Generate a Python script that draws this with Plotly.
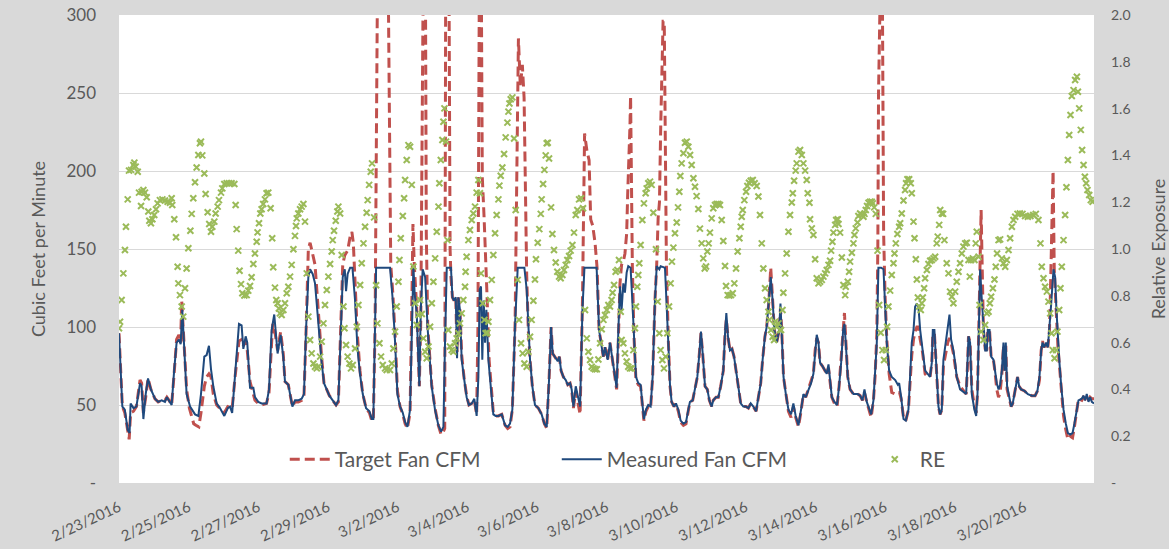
import pandas as pd
import plotly.graph_objects as go

# ---- data: (hours since 2/23/2016 00:00, value) ----
measured_cfm = [
(0,96),(2.3,49),(4,47),(6,34),(7.3,32),(8,51),(10,48),(12,49),(14.5,64),(15.6,62),(16.8,41),(18.4,57),(20,67),(22,60),(24.8,54),(27,52),(29.4,53),(31.7,52),(33,55),(34.5,53),(36.3,50),(38,72),(39.7,90),(41.3,92),(42.5,89),(43.6,111),(44.8,90),(46.6,57),(49,49),(52.4,44),(54.7,43),(56.5,57),(58.8,81),(60.4,82),(62,88),(63.4,73),(65,62),(67.3,51),(69.6,48),(72.6,43),(75,48),(76.5,49),(78,45),(80,72),(82.7,102),(84.5,101),(85.7,86),(87.3,94),(88.4,90),(90.3,61),(92.6,61),(93.7,55),(96,52),(98.3,51),(101.7,51),(103.4,60),(105.2,98),(107,108),(109.3,83),(111.4,95),(113.2,81),
(114.4,65),(116.7,63),(117.9,57),(119.5,49),(121.3,53),(123.6,53),(125.9,54),(127.5,57),(128.9,98),(130.5,132),(131.7,137),(133.5,134),(135.1,128),(136.7,111),(138.1,92),(139.7,77),(141.3,64),(143.2,60),(145,56),(147.3,53),(149.6,50),(151.2,53),(152.8,90),(154.2,132),(155.6,137),(156.5,123),(157.6,134),(159.3,138),(160.9,138),(162.7,117),(164.3,87),(166.1,70),(168,57),(170.3,48),(172.6,46),(174.2,41),(175.3,41),(176.5,90),(177.2,138),(186.8,138),(188.7,117),(190.3,90),(191.9,57),(193.7,49),(195.6,45),(197.2,39),(198.8,36),(200.6,47),(202,117),(202.9,139),(203.8,121),(205.2,109),(207,62),(208,111),(209.3,137),(211,132),(212.8,98),(215.5,62),(217.8,47),(220.1,37),(222,33),(223.6,36),(224.7,90),(225.9,138),
(228.8,138),(229.8,119),(230.9,117),(232.1,119),(233,80),(233.9,119),(235,111),(236.2,79),(238,66),(239.6,55),(241.2,50),(243.1,51),(244.9,54),(246.5,43),(247.7,68),(248.6,124),(249.5,126),(250.4,79),(251.4,117),(252.3,90),(253.2,111),(254.6,79),(256.4,60),(258,44),(259.6,43),(261.5,43),(263.8,44),(264.9,41),(266.1,37),(267.9,36),(269.5,38),(271.1,47),(273,102),(274.8,138),(279.4,138),(281,124),(282.1,100),(283.3,79),(284.9,62),(286.7,50),(289,48),(291.3,44),(293.2,38),(294.8,36),(296.4,66),(297.8,100),(298.9,83),(300.5,81),(302.4,78),(303.5,81),(304.7,72),(306.3,68),(307.9,66),(309.3,63),(310.9,64),(312,60),(313.2,49),(314.8,62),(316.2,55),(317.8,49),(319.4,111),(320.8,138),(329.2,138),(330.9,98),(332.2,90),(333.8,81),(335,87),(336.8,79),(338.4,90),
(340.2,79),(341.8,68),(343,61),(344.1,96),(345.3,126),(346.4,111),(347.6,128),(348.7,122),(349.9,135),(351,139),(352.6,138),(353.8,117),(354.9,92),(356.3,68),(357.9,64),(359.5,63),(360.7,51),(361.8,41),(363.2,47),(364.8,50),(366.4,49),(367.8,68),(369.4,117),(370.6,139),(372.4,137),(373.3,139),(376.3,138),(377.5,117),(378.6,90),(379.8,62),(380.9,52),(382.5,49),(383.9,51),(385.5,47),(387.1,40),(389,38),(390.8,39),(392.4,47),(393.5,52),(395.4,53),(397,60),(398.6,68),(400,83),(401.1,97),(402.3,83),(403.9,62),(405.5,60),(406.9,53),(408.5,49),(409.6,53),(411.5,55),(413.1,55),(414.7,62),(416.5,72),(417.7,96),(418.6,109),(419.7,94),(421.1,85),(422.5,86),(423.9,81),(425.3,72),(426.9,62),(428.5,51),(430.3,49),(432.1,49),(433.8,48),(435.4,51),(437.2,49),(439.1,46),(440.7,55),(442.3,64),(443.6,79),(445.2,94),(446.4,100),(447.8,115),(449.2,132),(450.5,117),(451.7,98),(453.3,90),
(455,98),(455.9,115),(456.8,98),(458,68),(459.6,57),(461.4,47),(463.2,44),(464.8,51),(466.4,43),(468.3,37),(470.1,47),(471.7,57),(473.3,55),(475.2,60),(477,64),(478.6,70),(479.8,85),(480.9,95),(482.1,90),(483.2,77),(484.8,75),(486.7,72),(487.8,70),(489,76),(489.7,68),(491.3,55),(493.1,52),(494.9,50),(496.3,62),(497.7,77),(499.1,98),(500,102),(500.9,90),(502.3,68),(503.9,60),(506.2,57),(509.2,57),(510.8,56),(512.4,53),(513.8,60),(515.4,52),(517,47),(518.4,44),(520,53),(521.1,68),(522.3,90),(523.4,138),(525.3,138),(526.9,137),(528,117),(529.2,90),(530.8,72),(532.6,68),(535,66),(536.8,63),(537.7,64),(539.1,55),(540.7,41),(542.3,40),(544.1,47),(545.3,68),(546.4,90),(547.6,98),(548.7,113),(549.9,115),(551,113),(552.2,98),(553.8,87),(555.6,72),(557.4,70),(559,68),(560.2,77),(560.9,98),(562,98),(563,81),(564.1,57),
(564.8,49),(565.9,44),(567.1,47),(568.2,79),(569.9,90),(571.2,98),(572.4,108),(573.5,92),(575.1,85),(576.3,77),(577.4,68),(579.7,60),(582.7,58),(583.9,57),(584.8,77),(585.5,94),(586.6,90),(587.8,57),(589.6,47),(590.8,43),(591.7,57),(592.6,96),(593.5,137),(594.7,117),(595.8,98),(597,85),(598.1,85),(598.8,98),(600,98),(601.1,81),(602.7,79),(603.9,70),(605,64),(606.2,60),(607.3,63),(608.5,72),(609.6,90),(610.3,72),(611.2,90),(612.1,62),(613.5,55),(614.9,49),(616,51),(617.2,57),(618.1,60),(619.3,68),(620.4,62),(621.8,60),(624.1,59),(626.4,57),(629.1,56),(631.4,56),(633,59),(634.4,68),(635.6,85),(636.5,90),(637.6,87),(639,90),(640.2,87),(641.3,98),(642.5,115),(644.1,137),(645.2,132),(646.1,111),(647.1,90),(648.2,77),(649.4,62),(651,47),(652.6,38),(654,32),(655.6,31),(657.2,32),(658.5,38),(660.2,47),(661.3,53),(663.6,54),(664.7,56),(665.9,53),(667,57),(668.2,52),(669.3,55),(670.5,52),(672,51),
]

target_cfm = [
(0,96),(2.3,49),(4,45),(6,32),(7,28),(8,45),(10,46),(12,49),(14.5,66),(15.6,64),(16.8,45),(18.4,55),(20,67),(22,60),(24.8,54),(27,52),(29.4,53),(31.7,53),(33,55),(34.5,53),(36.3,50),(38,70),(39.7,92),(41.3,95),(42.5,90),(43.2,117),(44.8,92),(46.6,60),(48.5,48),(50,42),(51.5,38),(53,37),(55,36),(56.5,45),(58.8,62),(60.4,68),(62,70),(63.4,68),(65,57),(67.3,50),(69.6,48),(72.6,45),(75,49),(78,48),(80,68),(82.7,91),(84.5,92),(85.7,88),(87.3,91),(88.4,85),(90.3,65),(92.6,58),(93.7,53),(96,51),(98.3,50),(101.7,51),(103.4,58),(105.2,90),(106,102),(107,100),(109.3,85),(111.4,97),(113.2,83),
(114.4,65),(116.7,63),(117.9,57),(119.5,49),(121.3,52),(123.6,52),(125.9,53),(127.5,56),(128.9,96),(130.5,150),(131.7,154),(133.5,147),(135.1,140),(136.7,119),(138.1,98),(139.7,80),(141.3,64),(143.2,60),(145,56),(147.3,53),(149.6,50),(151.2,52),(152.8,95),(154.2,140),(155.6,146),(157.6,149),(159.3,158),(160.5,161),(161.5,154),(162.7,130),(164.3,95),(166.1,72),(168,57),(170.3,48),(172.6,45),(174.2,40),(175.3,40),(176.5,100),(177.2,200),(177.9,300),(178.6,380),(185,380),(185.7,300),(186.4,200),(187.3,140),(188.7,122),(190.3,95),(191.9,59),(193.7,49),(195.6,44),(197.2,38),(198.8,35),(200.6,45),(202,125),(202.6,166),(203.5,140),(205.2,112),(207,62),(208,105),(209.5,300),(209.9,380),(210.9,380),(211.3,300),(211.8,160),(212.8,100),(215.5,63),(217.8,48),(220.1,37),(222,31),(223.6,33),(224.5,35),(225,300),(225.3,380),(227.2,380),(227.6,250),(228.2,150),(228.8,132),
(229.8,119),(230.9,117),(232.1,119),(233,84),(233.9,119),(235,111),(236.2,82),(238,66),(239.6,56),(241.2,50),(243.1,51),(244.9,53),(246.5,44),(247.4,100),(248.3,300),(248.6,380),(249.4,380),(249.7,300),(250.4,196),(251.6,171),(252.7,149),(253.7,119),(255,80),(256.8,58),(258,45),(259.6,43),(261.5,43),(263.8,44),(264.9,40),(266.1,37),(267.9,35),(269.5,36),(271.1,47),(273,102),(273.9,175),(275.3,285),(276.6,254),(278,268),(279.2,247),(280.1,175),(281,133),(282.1,98),(283.3,79),(284.9,62),(286.7,50),(289,48),(291.3,44),(293.2,38),(294.8,35),(296.4,66),(297.8,100),(298.9,83),(300.5,81),(302.4,78),(303.5,81),(304.7,72),(306.3,68),(307.9,66),(309.3,63),(310.9,64),(312,60),(313.2,48),(314.8,59),(316.2,53),(317.8,44),(319.4,115),(320.9,224),(322.5,213),(324,207),(325.1,169),(326.5,165),(328.1,154),(329.5,138),(330.9,98),(332.2,90),(333.8,81),(335,87),(336.8,79),(338.4,90),
(340.2,79),(341.8,66),(343,60),(344.1,90),(345.3,128),(346.4,140),(347.6,142),(348.7,147),(349.9,160),(350.6,185),(351.5,205),(352.2,230),(352.6,248),(353.2,170),(353.8,140),(354.9,95),(356.3,66),(357.9,63),(359.5,62),(360.7,50),(361.8,40),(363.2,46),(364.8,49),(366.4,48),(367.8,68),(369.4,117),(370.6,140),(371.6,170),(372.5,180),(373.4,230),(374.3,280),(375,296),(375.8,296),(376.5,220),(377.3,140),(378.6,92),(379.8,62),(380.9,52),(382.5,49),(383.9,51),(385.5,46),(387.1,39),(389,37),(390.8,38),(392.4,47),(393.5,52),(395.4,53),(397,60),(398.6,68),(400,83),(401.1,96),(402.3,83),(403.9,62),(405.5,60),(406.9,53),(408.5,49),(409.6,53),(411.5,55),(413.1,55),(414.7,62),(416.5,72),(417.7,96),(418.6,105),(419.7,94),(421.1,85),(422.5,86),(423.9,81),(425.3,72),(426.9,62),(428.5,51),(430.3,49),(432.1,49),(433.8,48),(435.4,51),(437.2,49),(439.1,46),(440.7,55),(442.3,64),(443.6,79),(445.2,94),(446.4,100),(447.8,115),(449.2,138),(450.5,117),(451.7,98),(453.3,90),
(455,98),(455.9,112),(456.8,98),(458,68),(459.6,57),(461.4,46),(463.2,42),(464.8,49),(466.4,42),(468.3,36),(470.1,46),(471.7,57),(473.3,55),(475.2,60),(477,66),(478.6,70),(479.8,85),(480.9,93),(482.1,90),(483.2,77),(484.8,75),(486.7,72),(487.8,70),(489,74),(489.7,68),(491.3,55),(493.1,51),(494.9,49),(496.3,62),(497.7,80),(499.1,100),(500,109),(500.9,92),(502.3,68),(503.9,60),(506.2,57),(509.2,57),(510.8,56),(512.4,53),(513.8,58),(515.4,52),(517,46),(518.4,42),(520,53),(521.1,68),(522.3,95),(523,150),(523.5,250),(524,380),(525.8,380),(526.5,250),(527,160),(528,120),(529.2,92),(530.8,70),(532.6,58),(535,57),(536.8,57),(538,58),(539.1,54),(540.7,42),(542.3,40),(544.1,47),(545.3,65),(546.4,82),(547.6,92),(548.7,97),(549.9,100),(551,100),(552.2,92),(553.8,84),(555.6,70),(557.4,68),(559,68),(560.2,77),(560.9,95),(562,96),(563,80),(564.1,57),
(564.8,49),(565.9,44),(567.1,47),(568.2,75),(569.9,85),(571.2,90),(572.4,93),(573.5,90),(575.1,83),(576.3,75),(577.4,68),(579.7,62),(582.7,58),(583.9,57),(584.8,75),(585.5,94),(586.6,90),(587.8,60),(589.6,49),(590.8,45),(591.7,57),(592.6,96),(593.5,137),(594.2,175),(594.7,150),(595.3,100),(595.8,98),(597,86),(598.1,85),(598.8,98),(600,98),(601.1,81),(602.7,79),(603.9,70),(605,60),(606.2,55),(607.3,58),(608.5,70),(609.6,88),(610.3,72),(611.2,88),(612.1,60),(613.5,55),(614.9,49),(616,51),(617.2,57),(618.1,60),(619.3,68),(620.4,62),(621.8,60),(624.1,59),(626.4,57),(629.1,56),(631.4,56),(633,59),(634.4,66),(635.6,85),(636.5,91),(637.6,87),(639,90),(640.2,87),(641.3,98),(641.8,115),(642.5,150),(643.4,190),(643.8,200),(644.6,137),(645.2,125),(646.1,100),(647.1,88),(648.2,75),(649.4,60),(651,43),(652.6,34),(654,28),(655.6,30),(657.2,29),(658.5,36),(660.2,49),(661.3,54),(663.6,53),(664.7,55),(665.9,54),(667,56),(668.2,53),(669.3,55),(670.5,54),(672,54),
]

relative_exposure = [
(0,0.661),(0.7,0.689),(1.8,0.782),(3.0,0.896),(4.1,0.996),(4.8,1.095),(6.0,1.212),(6.9,1.335),(8.3,1.338),(9.9,1.359),(10.6,1.369),(11.5,1.352),(12.9,1.330),(13.8,1.241),(15.2,1.184),(15.6,1.245),(16.8,1.252),(17.9,1.241),(19.1,1.221),(20.2,1.160),(20.9,1.121),(22.0,1.110),(23.0,1.127),(24.3,1.145),(25.5,1.170),(26.6,1.195),(28.2,1.209),(29.9,1.212),(31.7,1.207),(33.5,1.202),(35.1,1.198),(36.3,1.217),(36.7,1.188),(38.1,1.127),(39.3,1.050),(40.4,0.924),(40.9,0.853),(42.0,0.803),(43.2,0.754),(44.3,0.711),(45.5,0.832),(46.6,0.917),(47.8,1.003),(49.2,1.078),(50.1,1.150),(51.2,1.217),(52.4,1.285),(53.5,1.348),(54.7,1.402),(55.8,1.452),(56.5,1.459),(57.4,1.400),(58.8,1.323),(59.7,1.235),(61.1,1.157),(62.2,1.107),(63.4,1.074),(64.3,1.095),(65.7,1.117),(66.6,1.152),(68.0,1.181),(68.9,1.209),(70.3,1.241),(71.2,1.259),(72.6,1.278),(74.2,1.281),(75.8,1.281),(77.6,1.281),(79.5,1.278),(80.4,1.188),(81.1,1.085),(82.2,0.993),(83.1,0.907),(84.1,0.850),(85.0,0.811),(86.4,0.801),(88.0,0.803),(89.1,0.822),(90.3,0.842),(91.4,0.879),(92.6,0.936),(93.7,0.981),(94.9,1.031),(95.5,1.071),(96.5,1.110),(97.4,1.152),(98.3,1.170),(99.4,1.192),(100.6,1.212),(101.7,1.238),(102.9,1.241),(104.5,1.174),(105.6,1.046),(106.3,0.922),(107.5,0.835),(108.4,0.782),(109.3,0.768),(110.2,0.746),(110.9,0.725),
(112.1,0.718),(113.3,0.739),(114.4,0.768),(115.6,0.811),(116.7,0.839),(117.9,0.882),(119.0,0.932),(120.2,0.999),(121.3,1.056),(122.0,1.098),(122.5,1.131),(123.6,1.152),(124.8,1.170),(125.9,1.181),(127.1,1.192),(128.2,1.117),(129.4,0.896),(130.5,0.711),(131.7,0.611),(132.8,0.554),(134.0,0.511),(135.1,0.497),(136.3,0.490),(137.4,0.497),(138.6,0.540),(139.7,0.604),(140.9,0.682),(142.0,0.761),(143.2,0.825),(144.3,0.882),(145.5,0.936),(146.6,0.989),(147.3,1.038),(148.2,1.078),(149.4,1.121),(150.5,1.160),(151.2,1.181),(152.4,1.152),(153.5,0.974),(154.7,0.754),(155.4,0.661),(156.5,0.590),(157.6,0.540),(158.8,0.511),(159.9,0.490),(161.1,0.504),(162.7,0.575),(163.9,0.668),(165.0,0.761),(166.2,0.846),(167.3,0.939),(168.5,1.024),(169.6,1.095),(170.7,1.155),(171.4,1.209),(172.4,1.274),(173.5,1.330),(174.4,1.366),(175.8,1.135),(177.2,0.845),(178.1,0.682),(179.5,0.597),(180.6,0.540),(181.8,0.504),(183.4,0.490),(184.5,0.483),(186.8,0.483),(188.0,0.511),(189.1,0.575),(190.3,0.647),(191.4,0.754),(192.6,0.860),(193.3,0.953),(194.2,1.046),(195.6,1.141),(196.5,1.217),(197.2,1.295),(198.3,1.380),(199.5,1.444),(200.6,1.437),(201.8,1.274),(202.9,0.925),(204.1,0.768),(205.2,0.675),(206.4,0.718),(207.5,0.782),(208.7,0.722),(209.8,0.618),(211.0,0.561),(212.1,0.533),(213.3,0.583),(214.4,0.668),(215.6,0.768),(216.7,0.860),(217.9,0.960),(219.0,1.074),(220.2,1.181),(220.8,1.281),(221.8,1.380),(222.9,1.466),(223.6,1.544),(224.3,1.601),(225.4,1.459),(226.4,1.038),
(227.0,0.654),(228.1,0.583),(229.3,0.568),(230.4,0.561),(231.6,0.597),(232.7,0.618),(233.9,0.640),(235.0,0.682),(236.2,0.725),(237.3,0.782),(238.5,0.839),(238.9,0.903),(239.6,0.967),(240.8,1.038),(241.9,1.081),(243.1,1.124),(244.2,1.152),(245.4,1.181),(246.5,1.241),(247.7,1.295),(248.8,1.238),(249.5,0.896),(250.7,0.768),(251.8,0.697),(252.7,0.640),(253.9,0.642),(254.6,0.689),(255.7,0.782),(256.9,0.868),(258.0,0.974),(259.2,1.067),(260.3,1.145),(261.5,1.212),(262.2,1.271),(263.1,1.313),(264.2,1.348),(265.4,1.406),(266.5,1.477),(267.7,1.540),(268.4,1.587),(269.1,1.622),(270.0,1.640),(271.1,1.648),(272.3,1.472),(273.4,1.167),(274.8,0.868),(275.7,0.697),(277.1,0.597),(278.2,0.554),(279.4,0.511),(281.0,0.497),(282.1,0.561),(283.3,0.625),(284.4,0.697),(285.6,0.779),(286.7,0.870),(287.4,0.956),(288.6,1.027),(289.7,1.085),(290.7,1.150),(291.3,1.212),(292.3,1.278),(293.2,1.338),(294.1,1.400),(294.8,1.452),(295.5,1.454),(296.4,1.387),(297.8,1.178),(298.7,1.064),(299.8,0.996),(301.0,0.942),(302.1,0.903),(303.3,0.882),(304.4,0.875),(305.6,0.889),(306.7,0.910),(307.9,0.932),(309.0,0.953),(310.2,0.970),(311.3,0.993),(312.5,1.017),(313.6,1.070),(314.8,1.145),(315.9,1.167),(317.1,1.212),(318.5,1.217),(319.8,1.174),(321.2,0.739),(322.4,0.618),(323.5,0.561),(324.7,0.526),(325.8,0.497),(327.0,0.490),(328.1,0.486),(329.3,0.486),(330.4,0.528),(331.6,0.597),(332.7,0.657),(333.9,0.697),(335.0,0.718),(336.2,0.739),(337.3,0.761),
(338.4,0.754),(339.5,0.782),(340.2,0.813),(341.2,0.846),(342.3,0.903),(343.5,0.910),(344.6,0.953),(345.8,0.732),(346.4,0.611),(347.6,0.597),(348.7,0.554),(349.9,0.519),(351.0,0.497),(352.2,0.490),(353.3,0.490),(354.5,0.568),(355.6,0.661),(356.3,0.754),(357.2,0.839),(357.9,0.889),(358.6,0.939),(359.5,1.017),(360.7,1.124),(361.8,1.195),(363.0,1.238),(363.7,1.259),(364.8,1.281),(366.0,1.288),(367.1,1.274),(368.3,1.155),(370.1,0.999),(371.3,0.775),(372.4,0.640),(373.3,0.568),(374.5,0.526),(375.6,0.490),(376.8,0.540),(377.9,0.640),(379.1,0.754),(380.2,0.853),(381.1,0.946),(382.1,1.006),(383.2,1.067),(384.4,1.113),(385.3,1.178),(386.2,1.245),(386.9,1.312),(387.8,1.366),(389.0,1.409),(390.1,1.454),(391.3,1.459),(392.4,1.437),(393.6,1.402),(394.7,1.359),(395.9,1.302),(397.0,1.266),(398.1,1.226),(399.3,1.171),(400.4,1.087),(401.6,1.024),(402.7,0.960),(403.7,0.917),(404.6,0.925),(405.5,0.989),(406.4,1.024),(407.3,1.070),(408.5,1.131),(409.6,1.174),(410.8,1.188),(411.9,1.192),(413.1,1.192),(414.2,1.188),(415.4,1.124),(416.5,1.034),(417.7,0.927),(418.4,0.842),(419.5,0.803),(420.7,0.801),(421.8,0.803),(423.0,0.811),(424.1,0.853),(425.3,0.917),(426.4,0.989),(427.6,1.046),(428.5,1.095),(429.2,1.138),(429.9,1.167),(431.0,1.209),(432.2,1.245),(433.1,1.269),(434.2,1.283),(435.4,1.292),(436.8,1.295),(438.1,1.281),(439.5,1.269),(440.7,1.224),(441.8,1.145),(443.0,1.024),(444.1,0.917),(445.3,0.832),(446.4,0.782),(447.6,0.732),(448.2,0.697),(449.4,0.654),(450.5,0.625),(451.5,0.611),
(452.2,0.689),(453.3,0.668),(454.5,0.682),(455.6,0.654),(456.3,0.654),(457.3,0.739),(457.9,0.813),(459.1,0.896),(460.2,0.981),(461.4,1.074),(462.5,1.145),(463.7,1.199),(464.4,1.238),(465.3,1.292),(466.4,1.335),(467.1,1.366),(468.3,1.416),(469.4,1.423),(470.6,1.402),(471.7,1.366),(472.9,1.335),(474.0,1.295),(474.7,1.238),(475.9,1.198),(476.3,1.127),(477.5,1.088),(478.6,1.060),(479.8,0.956),(480.9,0.875),(482.1,0.853),(483.2,0.860),(484.4,0.868),(485.5,0.882),(486.7,0.896),(487.8,0.910),(489.0,0.932),(490.1,0.950),(490.8,0.993),(491.7,1.031),(492.4,1.070),(493.6,1.103),(494.3,1.124),(495.4,1.127),(495.9,1.107),(497.0,1.070),(498.2,0.964),(499.3,0.846),(500.5,0.803),(500.9,0.839),(502.3,0.860),(503.2,0.903),(503.9,0.946),(505.1,0.984),(506.2,1.024),(506.9,1.060),(507.8,1.088),(509.0,1.113),(509.6,1.141),(510.8,1.152),(512.0,1.145),(513.1,1.138),(513.8,1.150),(514.7,1.167),(515.6,1.184),(516.6,1.198),(517.7,1.202),(518.8,1.202),(519.5,1.195),(520.5,1.178),(521.6,1.150),(522.8,0.993),(523.9,0.761),(525.0,0.642),(526.2,0.568),(527.3,0.526),(528.5,0.568),(529.4,0.668),(530.3,0.754),(531.5,0.822),(532.6,0.889),(533.8,0.939),(534.5,0.981),(535.4,1.024),(536.5,1.064),(537.7,1.095),(538.4,1.110),(539.5,1.152),(540.7,1.207),(541.8,1.252),(542.5,1.281),(543.4,1.298),(544.6,1.298),(545.7,1.281),(546.4,1.238),(547.6,1.117),(548.3,1.046),(549.2,0.956),(549.9,0.870),(550.6,0.793),(551.5,0.754),(552.6,0.739),(553.3,0.768),(554.0,0.793),(554.9,0.832),(555.6,0.875),(556.8,0.910),(557.9,0.936),(559.1,0.950),(560.2,0.953),(561.4,0.960),
(562.5,0.967),(563.6,1.024),(564.3,1.053),(565.3,1.103),(566.0,1.167),(567.1,1.152),(568.0,1.150),(568.9,1.038),(570.5,0.939),(571.7,0.896),(572.8,0.818),(574.0,0.796),(575.1,0.768),(576.3,0.818),(577.4,0.860),(578.6,0.903),(579.7,0.939),(580.9,0.981),(582.0,1.010),(583.2,1.024),(584.3,1.027),(585.5,0.953),(586.4,0.882),(587.3,0.953),(588.5,0.960),(589.6,0.953),(590.5,1.024),(591.2,1.074),(592.4,0.967),(593.1,0.761),(594.2,0.647),(595.8,0.611),(597.0,0.675),(598.1,0.725),(599.3,0.732),(600.2,0.768),(601.1,0.796),(602.3,0.832),(603.4,0.870),(604.3,0.924),(605.2,0.981),(606.2,1.038),(607.3,1.041),(608.5,0.960),(609.6,0.939),(610.8,0.924),(611.9,0.953),(613.1,0.996),(614.2,1.046),(615.4,1.095),(616.5,1.124),(617.7,1.138),(619.3,1.150),(620.9,1.152),(622.7,1.150),(624.5,1.141),(626.4,1.138),(628.2,1.141),(630.1,1.145),(631.9,1.150),(633.7,1.124),(635.1,1.024),(636.0,0.924),(637.2,0.875),(638.3,0.839),(639.5,0.818),(640.6,0.775),(641.8,0.725),(642.7,0.640),(643.6,0.568),(644.8,0.533),(645.9,0.568),(646.8,0.647),(648.0,0.739),(648.9,0.832),(649.8,0.924),(651.0,1.038),(652.1,1.145),(653.0,1.264),(654.0,1.380),(654.9,1.487),(655.8,1.573),(656.7,1.654),(657.9,1.679),(659.0,1.722),(660.2,1.736),(660.9,1.672),(661.8,1.601),(662.9,1.509),(663.8,1.423),(664.8,1.359),(665.7,1.309),(666.6,1.281),(667.5,1.252),(668.7,1.231),(669.8,1.209),(671.0,1.202),
]

start_date = "2016-02-23"
end_date = "2016-03-22"
tick_dates = ["2016-02-23", "2016-02-25", "2016-02-27", "2016-02-29", "2016-03-02", "2016-03-04",
              "2016-03-06", "2016-03-08", "2016-03-10", "2016-03-12", "2016-03-14", "2016-03-16",
              "2016-03-18", "2016-03-20"]
tick_labels = ["2/23/2016", "2/25/2016", "2/27/2016", "2/29/2016", "3/2/2016", "3/4/2016",
               "3/6/2016", "3/8/2016", "3/10/2016", "3/12/2016", "3/14/2016", "3/16/2016",
               "3/18/2016", "3/20/2016"]
cfm_ticks = [0, 50, 100, 150, 200, 250, 300]
cfm_labels = ["-", "50", "100", "150", "200", "250", "300"]
re_ticks = [0, 0.2, 0.4, 0.6, 0.8, 1.0, 1.2, 1.4, 1.6, 1.8, 2.0]
re_labels = ["-", "0.2", "0.4", "0.6", "0.8", "1.0", "1.2", "1.4", "1.6", "1.8", "2.0"]

base = pd.Timestamp(start_date)


def to_xy(pairs):
    hours = [p[0] for p in pairs]
    vals = [p[1] for p in pairs]
    return base + pd.to_timedelta(hours, unit="h"), vals


tx, ty = to_xy(target_cfm)
mx, my = to_xy(measured_cfm)
rx, ry = to_xy(relative_exposure)

GRAY = "#595959"
FONT = "Lato"

fig = go.Figure()
fig.add_trace(go.Scatter(x=tx, y=ty, mode="lines", name="Target Fan CFM", legend="legend",
                         line=dict(color="#C0504D", width=3, dash="10px,5px")))
fig.add_trace(go.Scatter(x=mx, y=my, mode="lines", name="Measured Fan CFM", legend="legend2",
                         line=dict(color="#1F497D", width=2)))
fig.add_trace(go.Scatter(x=rx, y=ry, mode="markers", name="RE", yaxis="y2", legend="legend3",
                         marker=dict(symbol="x-thin", size=6, color="#9BBB59",
                                     line=dict(width=2, color="#9BBB59"))))

legend_style = dict(orientation="h", yanchor="middle", y=0.05, xanchor="left",
                    bgcolor="rgba(0,0,0,0)", itemwidth=40,
                    font=dict(size=21, color=GRAY, family=FONT))

fig.update_layout(
    width=1169, height=549,
    paper_bgcolor="#D9D9D9", plot_bgcolor="#FFFFFF",
    margin=dict(l=119, r=75, t=15, b=66),
    font=dict(family=FONT, color=GRAY),
    showlegend=True,
    legend=dict(legend_style, x=0.170),
    legend2=dict(legend_style, x=0.449),
    legend3=dict(legend_style, x=0.770),
    xaxis=dict(type="date", range=[start_date, end_date], tickvals=tick_dates,
               ticktext=tick_labels, tickangle=-25, showgrid=False, zeroline=False,
               showline=False, ticks="", ticklabelstandoff=12, automargin=False,
               tickfont=dict(size=15, color=GRAY)),
    yaxis=dict(range=[0, 300], tickvals=cfm_ticks, ticktext=cfm_labels,
               showgrid=True, gridcolor="#D9D9D9", gridwidth=1, zeroline=False,
               ticks="", ticklabelstandoff=22, tickfont=dict(size=17, color=GRAY), automargin=False,
               title=dict(text="Cubic Feet per Minute", font=dict(size=18, color=GRAY), standoff=16)),
    yaxis2=dict(range=[0, 2.0], tickvals=re_ticks, ticktext=re_labels, overlaying="y",
                side="right", showgrid=False, zeroline=False, ticks="", automargin=False,
                ticklabelstandoff=16, tickfont=dict(size=14, color=GRAY),
                title=dict(text="Relative Exposure", font=dict(size=18, color=GRAY), standoff=22)),
)

fig.write_html("out.html")
